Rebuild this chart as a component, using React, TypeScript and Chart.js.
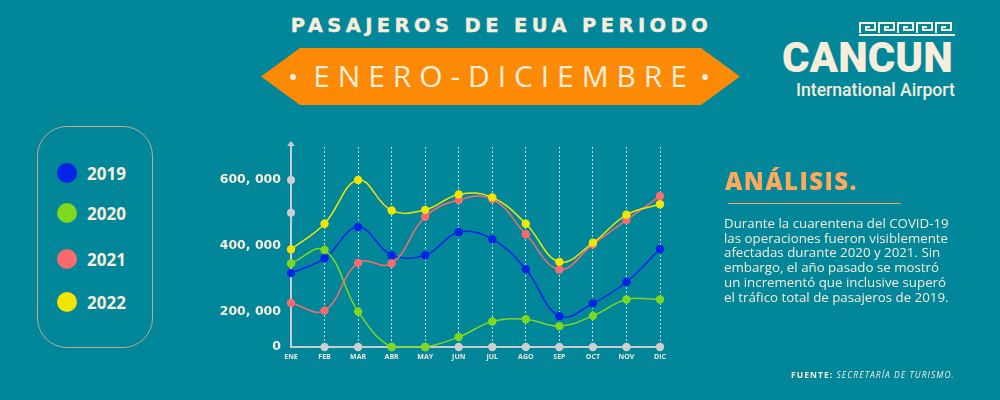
import React, { useEffect, useRef } from 'react';
import { Chart, registerables, LinearScale } from 'chart.js';

// ---------- data ----------
const months = ['ENE', 'FEB', 'MAR', 'ABR', 'MAY', 'JUN', 'JUL', 'AGO', 'SEP', 'OCT', 'NOV', 'DIC'];
const pax2019 = [317000, 362000, 457000, 371000, 371000, 441000, 420000, 329000, 174000, 225000, 290000, 390000];
const pax2020 = [346000, 387000, 200000, 0, 0, 56000, 144000, 157000, 118000, 176000, 237000, 237000];
const pax2021 = [226000, 203000, 348000, 346000, 488000, 539000, 542000, 435000, 328000, 404000, 478000, 551000];
const pax2022 = [389000, 467000, 600000, 507000, 509000, 556000, 547000, 467000, 351000, 409000, 494000, 526000];
const baselineDots = [null, 0, 0, 0, 0, 0, 0, 0, 0, 0, 0, 0];
const seriesNames = ['2019', '2020', '2021', '2022'];
const seriesColors = ['#0723E8', '#7ED81C', '#F96B6E', '#F2E600'];
const yTickValues = [0, 200000, 400000, 600000];
const yTickLabels = ['0', '200, 000', '400, 000', '600, 000'];
const yAxisMarkers = [500000, 600000];

const analysisLines = [
  'Durante la cuarentena del COVID-19',
  'las operaciones fueron visiblemente',
  'afectadas durante 2020 y 2021. Sin',
  'embargo, el año pasado se mostró',
  'un incrementó que inclusive superó',
  'el tráfico total de pasajeros de 2019.',
];

// ---------- styles ----------
const BG = '#01869A';
const CREAM = '#F6EDDA';
const AXIS = '#C9CDCF';

// Linear scale whose lower segment (0 .. breakValue) is compressed, as in the original artwork
class BrokenLinearScale extends LinearScale {
  static id = 'brokenLinear';
  static defaults = {};
  _toDec(value: number) {
    const o: any = this.options;
    const bv = o.breakValue ?? 200000;
    const bf = o.breakFraction ?? 0.177;
    const min = this.min;
    const max = this.max;
    if (value <= bv) return ((value - min) / (bv - min)) * bf;
    return bf + ((value - bv) / (max - bv)) * (1 - bf);
  }
  getPixelForValue(value: any) {
    if (value === null || value === undefined || Number.isNaN(value)) return NaN;
    return this.getPixelForDecimal(this._toDec(value));
  }
  getValueForPixel(pixel: number) {
    const o: any = this.options;
    const bv = o.breakValue ?? 200000;
    const bf = o.breakFraction ?? 0.177;
    const d = this.getDecimalForPixel(pixel);
    if (d <= bf) return this.min + (d / bf) * (bv - this.min);
    return bv + ((d - bf) / (1 - bf)) * (this.max - bv);
  }
}

Chart.register(...registerables, BrokenLinearScale as any);

const axisDecor = {
  id: 'axisDecor',
  beforeDatasetsDraw(chart: any) {
    const { ctx, chartArea, scales } = chart;
    const x0 = chartArea.left;
    ctx.save();
    // arrow head on top of y axis
    ctx.fillStyle = AXIS;
    ctx.beginPath();
    ctx.moveTo(x0, chartArea.top - 6);
    ctx.lineTo(x0 - 4, chartArea.top - 1);
    ctx.lineTo(x0 + 4, chartArea.top - 1);
    ctx.closePath();
    ctx.fill();
    ctx.fillRect(x0 - 1, chartArea.top - 2, 2, 3);
    // marker dots on y axis
    ctx.fillStyle = '#CFCFD0';
    yAxisMarkers.forEach((v) => {
      const y = scales.y.getPixelForValue(v);
      ctx.beginPath();
      ctx.arc(x0, y, 4, 0, Math.PI * 2);
      ctx.fill();
    });
    ctx.restore();
  },
};

function ChartCanvas() {
  const ref = useRef<HTMLCanvasElement | null>(null);
  useEffect(() => {
    if (!ref.current) return;
    const series = [pax2019, pax2020, pax2021, pax2022];
    const orders = [4, 3, 2, 1];
    const datasets: any[] = series.map((data, i) => ({
      label: seriesNames[i],
      data,
      borderColor: seriesColors[i],
      backgroundColor: seriesColors[i],
      pointBackgroundColor: seriesColors[i],
      pointBorderWidth: 0,
      pointRadius: 4.2,
      borderWidth: 1.5,
      tension: 0.4,
      fill: false,
      clip: false,
      order: orders[i],
    }));
    datasets.push({
      label: 'base',
      data: baselineDots,
      showLine: false,
      pointRadius: 4.2,
      pointBorderWidth: 0,
      pointBackgroundColor: '#CFCFD0',
      borderColor: '#CFCFD0',
      clip: false,
      order: 10,
    });
    const chart = new Chart(ref.current, {
      type: 'line',
      data: { labels: months, datasets },
      plugins: [axisDecor],
      options: {
        animation: false,
        responsive: false,
        maintainAspectRatio: false,
        devicePixelRatio: 1,
        layout: { padding: { left: 201, right: 340, top: 147, bottom: 0 } },
        plugins: { legend: { display: false }, tooltip: { enabled: false } },
        scales: {
          x: {
            type: 'category',
            offset: false,
            grid: {
              display: true,
              color: 'rgba(235,240,240,0.8)',
              lineWidth: 1,
              drawTicks: false,
            },
            border: { display: true, color: AXIS, width: 2, dash: [2, 2] },
            ticks: {
              color: '#EEE8DC',
              font: { family: 'Open Sans', size: 7, weight: 'bold' },
              padding: 6,
              maxRotation: 0,
              autoSkip: false,
            },
            afterFit: (s: any) => {
              s.height = 53;
            },
          },
          y: {
            type: 'brokenLinear',
            min: 0,
            max: 700000,
            breakValue: 200000,
            breakFraction: 0.177,
            grid: { display: false, drawTicks: false },
            border: { display: true, color: AXIS, width: 2 },
            afterBuildTicks: (s: any) => {
              s.ticks = yTickValues.map((v) => ({ value: v }));
            },
            ticks: {
              color: CREAM,
              font: { family: 'DejaVu Sans', size: 12.5, weight: 'bold' },
              padding: 10,
              callback: (v: any) => {
                const i = yTickValues.indexOf(Number(v));
                return i >= 0 ? yTickLabels[i] : '';
              },
            },
            afterFit: (s: any) => {
              s.width = 90;
            },
          } as any,
        },
      },
    });
    return () => chart.destroy();
  }, []);
  return (
    <canvas
      ref={ref}
      width={1000}
      height={400}
      style={{ position: 'absolute', left: 0, top: 0, width: 1000, height: 400 }}
    />
  );
}

function Meander() {
  const units = [0, 1, 2, 3, 4];
  return (
    <svg width={100} height={16} style={{ position: 'absolute', left: 858, top: 21 }}>
      {units.map((u) => {
        const x = 2 + u * 19;
        return (
          <path
            key={u}
            d={`M${x} 12 V2 H${x + 15} V9 H${x + 6} V6 H${x + 10}`}
            fill="none"
            stroke={CREAM}
            strokeWidth={2}
          />
        );
      })}
      <path d="M1 14 H97" stroke={CREAM} strokeWidth={2} />
    </svg>
  );
}

const legendTops = [173, 213, 259, 302];

export default function App() {
  return (
    <div
      style={{
        position: 'absolute',
        left: 0,
        top: 0,
        width: 1000,
        height: 400,
        background: BG,
        overflow: 'hidden',
        fontFamily: '"Open Sans", sans-serif',
        color: CREAM,
      }}
    >
      {/* title */}
      <div
        style={{
          position: 'absolute',
          left: 0,
          width: 1000,
          top: 12,
          textAlign: 'center',
          fontFamily: '"DejaVu Sans", sans-serif',
          fontWeight: 700,
          fontSize: 19.5,
          letterSpacing: 4.4,
          lineHeight: '28px',
          paddingLeft: 3,
          boxSizing: 'border-box',
          WebkitTextStroke: '0.4px ' + CREAM,
        }}
      >
        PASAJEROS DE EUA PERIODO
      </div>
      {/* banner */}
      <div
        style={{
          position: 'absolute',
          left: 261,
          top: 48,
          width: 479,
          height: 57,
          background: '#FD8A05',
          clipPath: 'polygon(0 50%, 39px 0, calc(100% - 39px) 0, 100% 50%, calc(100% - 39px) 100%, 39px 100%)',
        }}
      />
      <div style={{ position: 'absolute', left: 290, top: 74, width: 6, height: 6, borderRadius: 3, background: CREAM }} />
      <div style={{ position: 'absolute', left: 702, top: 74, width: 6, height: 6, borderRadius: 3, background: CREAM }} />
      <div
        style={{
          position: 'absolute',
          left: 261,
          width: 479,
          top: 54,
          textAlign: 'center',
          fontWeight: 400,
          fontSize: 30,
          letterSpacing: 7.9,
          lineHeight: '44px',
          paddingLeft: 7,
          boxSizing: 'border-box',
        }}
      >
        ENERO-DICIEMBRE
      </div>

      {/* logo */}
      <Meander />
      <div
        style={{
          position: 'absolute',
          left: 782,
          top: 33,
          fontFamily: 'Roboto, sans-serif',
          fontWeight: 900,
          fontSize: 42,
          lineHeight: '50px',
          letterSpacing: 0,
        }}
      >
        CANCUN
      </div>
      <div
        style={{
          position: 'absolute',
          left: 796,
          top: 79,
          fontFamily: 'Roboto, sans-serif',
          fontWeight: 500,
          fontSize: 17.6,
          lineHeight: '22px',
        }}
      >
        International Airport
      </div>

      {/* legend */}
      <div
        style={{
          position: 'absolute',
          left: 37,
          top: 126,
          width: 116,
          height: 222,
          border: '1px solid #B9AE93',
          borderRadius: 30,
          boxSizing: 'border-box',
        }}
      />
      {seriesNames.map((n, i) => (
        <React.Fragment key={n}>
          <div
            style={{
              position: 'absolute',
              left: 57,
              top: legendTops[i] - 10,
              width: 20,
              height: 20,
              borderRadius: 10,
              background: seriesColors[i],
            }}
          />
          <div
            style={{
              position: 'absolute',
              left: 87,
              top: legendTops[i] - 11,
              fontWeight: 700,
              fontSize: 17,
              lineHeight: '24px',
            }}
          >
            {n}
          </div>
        </React.Fragment>
      ))}

      <ChartCanvas />

      {/* analysis */}
      <div
        style={{
          position: 'absolute',
          left: 725,
          top: 164,
          fontWeight: 800,
          fontSize: 24,
          letterSpacing: 1.4,
          lineHeight: '34px',
          color: '#FFA95C',
        }}
      >
        ANÁLISIS.
      </div>
      <div style={{ position: 'absolute', left: 728, top: 203, width: 173, height: 1, background: '#F7A35C' }} />
      <div
        style={{
          position: 'absolute',
          left: 724,
          top: 216,
          fontSize: 13.3,
          lineHeight: '14.7px',
          fontWeight: 400,
          whiteSpace: 'nowrap',
        }}
      >
        {analysisLines.map((l, i) => (
          <div key={i}>{l}</div>
        ))}
      </div>
      <div
        style={{
          position: 'absolute',
          left: 791,
          top: 369,
          fontSize: 8.5,
          letterSpacing: 1.05,
          lineHeight: '12px',
          whiteSpace: 'nowrap',
        }}
      >
        <span style={{ fontWeight: 700 }}>FUENTE: </span>
        <span style={{ fontStyle: 'italic' }}>SECRETARÍA DE TURISMO.</span>
      </div>
    </div>
  );
}
